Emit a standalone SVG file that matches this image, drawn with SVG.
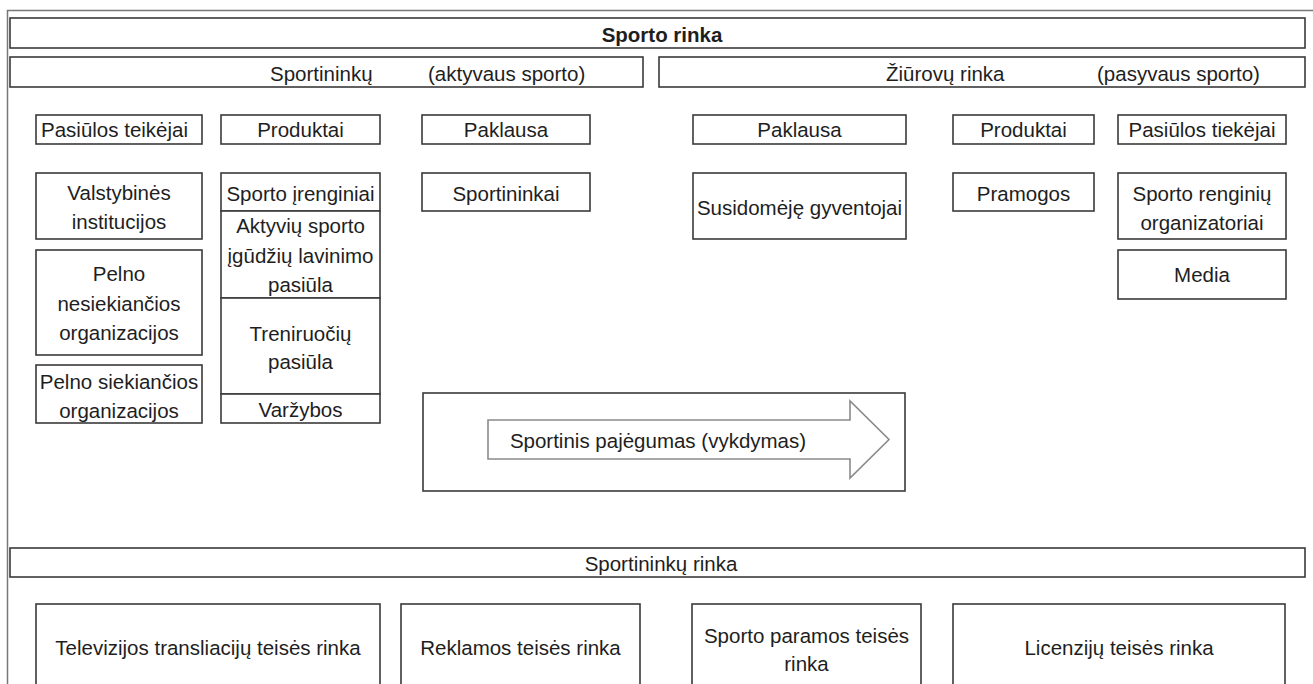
<svg xmlns="http://www.w3.org/2000/svg" width="1313" height="684" viewBox="0 0 1313 684">
<style>
.b{fill:#fff;stroke:#3a3a3a;stroke-width:1.6}
.t{font-family:"Liberation Sans",Arial,sans-serif;font-size:20.5px;fill:#1e1e1e;text-anchor:middle}
.l{text-anchor:start}
.bold{font-weight:bold}
.arrow{fill:#fff;stroke:#8a8a8a;stroke-width:1.6}
</style>
<rect x="0" y="0" width="1313" height="684" fill="#fff"/>
<rect x="7.5" y="10.5" width="1330" height="700" fill="none" stroke="#777" stroke-width="1.5"/>

<g id="title"><rect class="b" x="10" y="18" width="1295" height="30"/><text class="t bold" x="662" y="42">Sporto rinka</text></g>
<g id="sportininku-header"><rect class="b" x="10" y="57" width="633" height="30"/><text class="t l" x="270" y="81">Sportininkų</text><text class="t l" x="428" y="81">(aktyvaus sporto)</text></g>
<g id="ziurovu-header"><rect class="b" x="659" y="57" width="646" height="30"/><text class="t l" x="886" y="81">Žiūrovų rinka</text><text class="t l" x="1097" y="81">(pasyvaus sporto)</text></g>

<g id="pasiulos-teikejai"><rect class="b" x="36" y="115" width="166" height="29"/><text class="t l" x="41" y="137">Pasiūlos teikėjai</text></g>
<g id="produktai-1"><rect class="b" x="221" y="115" width="159" height="29"/><text class="t" x="300.5" y="137">Produktai</text></g>
<g id="paklausa-1"><rect class="b" x="422" y="115" width="168" height="29"/><text class="t" x="506" y="137">Paklausa</text></g>
<g id="paklausa-2"><rect class="b" x="693" y="115" width="213" height="29"/><text class="t" x="799.5" y="137">Paklausa</text></g>
<g id="produktai-2"><rect class="b" x="953" y="115" width="141" height="29"/><text class="t" x="1023.5" y="137">Produktai</text></g>
<g id="pasiulos-tiekejai"><rect class="b" x="1118" y="115" width="168" height="29"/><text class="t" x="1202" y="137">Pasiūlos tiekėjai</text></g>

<g id="valstybines"><rect class="b" x="36" y="173" width="166" height="66"/><text class="t" x="119" y="200">Valstybinės</text><text class="t" x="119" y="229">institucijos</text></g>
<g id="pelno-nesiekiancios"><rect class="b" x="36" y="250" width="166" height="105"/><text class="t" x="119" y="281">Pelno</text><text class="t" x="119" y="311">nesiekiančios</text><text class="t" x="119" y="340">organizacijos</text></g>
<g id="pelno-siekiancios"><rect class="b" x="36" y="365" width="166" height="58"/><text class="t" x="119" y="389">Pelno siekiančios</text><text class="t" x="119" y="418">organizacijos</text></g>

<g id="sporto-irenginiai"><rect class="b" x="221" y="173" width="159" height="38"/><text class="t" x="300.5" y="201">Sporto įrenginiai</text></g>
<g id="aktyviu"><rect class="b" x="221" y="211" width="159" height="87"/><text class="t" x="300.5" y="233">Aktyvių sporto</text><text class="t" x="300.5" y="263">įgūdžių lavinimo</text><text class="t" x="300.5" y="292">pasiūla</text></g>
<g id="treniruociu"><rect class="b" x="221" y="298" width="159" height="96"/><text class="t" x="300.5" y="341">Treniruočių</text><text class="t" x="300.5" y="369">pasiūla</text></g>
<g id="varzybos"><rect class="b" x="221" y="394" width="159" height="29"/><text class="t" x="300.5" y="417">Varžybos</text></g>

<g id="sportininkai"><rect class="b" x="422" y="173" width="168" height="38"/><text class="t" x="506" y="201">Sportininkai</text></g>
<g id="susidomeje"><rect class="b" x="693" y="173" width="213" height="66"/><text class="t" x="799.5" y="215">Susidomėję gyventojai</text></g>
<g id="pramogos"><rect class="b" x="953" y="173" width="141" height="38"/><text class="t" x="1023.5" y="201">Pramogos</text></g>
<g id="renginiu-organizatoriai"><rect class="b" x="1118" y="173" width="168" height="66"/><text class="t" x="1202" y="201">Sporto renginių</text><text class="t" x="1202" y="230">organizatoriai</text></g>
<g id="media"><rect class="b" x="1118" y="250" width="168" height="49"/><text class="t" x="1202" y="282">Media</text></g>

<g id="sportinis-pajegumas"><rect class="b" x="423" y="393" width="482" height="98"/><polygon class="arrow" points="488,420 850,420 850,401 889,439.5 850,478 850,459 488,459"/><text class="t" x="658" y="448">Sportinis pajėgumas (vykdymas)</text></g>

<g id="sportininku-rinka"><rect class="b" x="10" y="548" width="1295" height="29"/><text class="t" x="661" y="571">Sportininkų rinka</text></g>
<g id="televizijos"><rect class="b" x="36" y="604" width="344" height="100"/><text class="t" x="208" y="655">Televizijos transliacijų teisės rinka</text></g>
<g id="reklamos"><rect class="b" x="401" y="604" width="239" height="100"/><text class="t" x="520.5" y="655">Reklamos teisės rinka</text></g>
<g id="paramos"><rect class="b" x="692" y="604" width="229" height="100"/><text class="t" x="806.5" y="643">Sporto paramos teisės</text><text class="t" x="806.5" y="671">rinka</text></g>
<g id="licenziju"><rect class="b" x="953" y="604" width="332" height="100"/><text class="t" x="1119" y="655">Licenzijų teisės rinka</text></g>
<g id="connectors"></g>
</svg>
